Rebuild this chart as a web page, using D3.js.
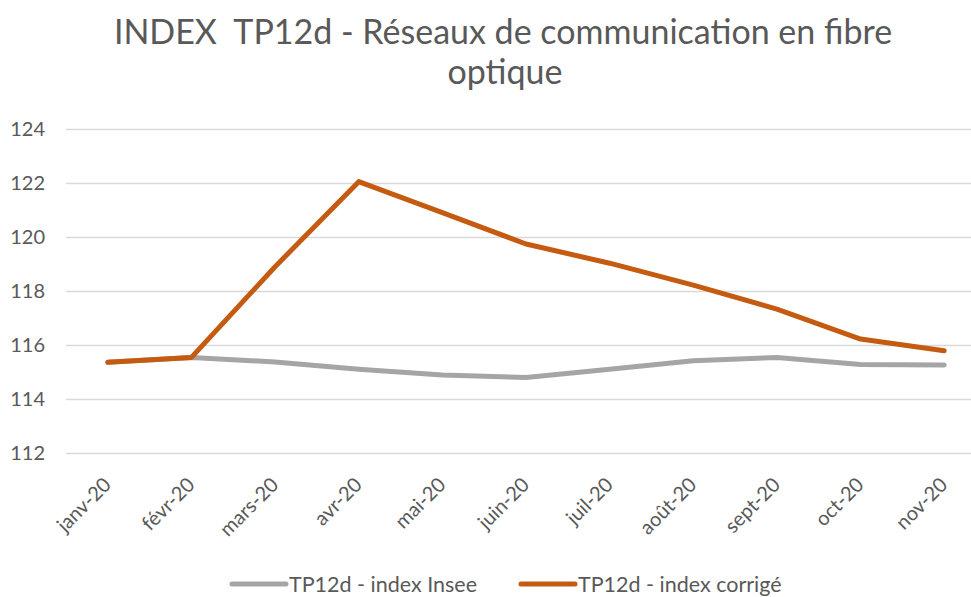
<!DOCTYPE html>
<html>
<head>
<meta charset="utf-8">
<script src="https://cdn.jsdelivr.net/npm/d3@7"></script>
<style>
  body { margin: 0; background: #fff; }
  text { font-family: Lato, "Noto Sans", sans-serif; fill: #595959; }
</style>
</head>
<body>
<div id="root"></div>
<script>
// chart data
const months = ['janv-20', 'févr-20', 'mars-20', 'avr-20', 'mai-20', 'juin-20',
    'juil-20', 'août-20', 'sept-20', 'oct-20', 'nov-20'];
const inseeValues = [115.36, 115.54, 115.37, 115.1, 114.89, 114.8, 115.1, 115.42, 115.54, 115.28, 115.26];
const corrigeValues = [115.36, 115.54, 118.9, 122.05, 120.9, 119.74, 119.03, 118.22, 117.33, 116.22, 115.79];
const yTicks = [112, 114, 116, 118, 120, 122, 124];
const seriesNames = ['TP12d - index Insee', 'TP12d - index corrigé'];

const width = 971;
const height = 597;

const svg = d3.select('#root').append('svg')
    .attr('width', width)
    .attr('height', height);

// plot area
const plotLeft = 66, plotRight = 986, plotTop = 129, plotBottom = 453;

const x = d3.scalePoint()
    .domain(months)
    .range([plotLeft, plotRight])
    .padding(0.5);

const y = d3.scaleLinear()
    .domain([112, 124])
    .range([plotBottom, plotTop]);

// title
const title = svg.append('text')
    .attr('text-anchor', 'middle')
    .attr('font-size', 34)
    .style('white-space', 'pre')
    .attr('x', 503);
title.append('tspan').attr('x', 503).attr('y', 44).text('INDEX  TP12d - Réseaux de communication en fibre');
title.append('tspan').attr('x', 505).attr('y', 84).text('optique');

// gridlines + y labels
const yAxis = svg.append('g')
    .attr('transform', `translate(${plotLeft},0)`)
    .call(d3.axisLeft(y).tickValues(yTicks).tickSize(-(plotRight - plotLeft)).tickPadding(21));
yAxis.select('.domain').remove();
yAxis.selectAll('.tick line').attr('stroke', '#d9d9d9').attr('stroke-width', 1.5);
yAxis.selectAll('.tick text')
    .attr('font-size', 20)
    .attr('fill', '#595959')
    .style('font-family', 'Lato, "Noto Sans", sans-serif');

// x labels
const xAxis = svg.append('g')
    .attr('transform', `translate(0,${plotBottom})`)
    .call(d3.axisBottom(x).tickSize(0).tickPadding(0));
xAxis.select('.domain').remove();
xAxis.selectAll('.tick text')
    .attr('font-size', 20)
    .attr('fill', '#595959')
    .style('font-family', 'Lato, "Noto Sans", sans-serif')
    .attr('text-anchor', 'end')
    .attr('dy', 0)
    .attr('transform', 'translate(4,33) rotate(-45)');

// lines
const line = d3.line()
    .x((d, i) => x(months[i]))
    .y(d => y(d));

svg.append('path')
    .datum(inseeValues)
    .attr('fill', 'none')
    .attr('stroke', '#a5a5a5')
    .attr('stroke-width', 5)
    .attr('stroke-linejoin', 'round')
    .attr('stroke-linecap', 'round')
    .attr('d', line);

svg.append('path')
    .datum(corrigeValues)
    .attr('fill', 'none')
    .attr('stroke', '#c55a11')
    .attr('stroke-width', 5)
    .attr('stroke-linejoin', 'round')
    .attr('stroke-linecap', 'round')
    .attr('d', line);

// legend
const legendItems = [
    { name: seriesNames[0], color: '#a5a5a5', x: 232 },
    { name: seriesNames[1], color: '#c55a11', x: 521 }
];
const legend = svg.append('g');
legendItems.forEach(it => {
    legend.append('line')
        .attr('x1', it.x).attr('x2', it.x + 54)
        .attr('y1', 584).attr('y2', 584)
        .attr('stroke', it.color)
        .attr('stroke-width', 5)
        .attr('stroke-linecap', 'round');
    legend.append('text')
        .attr('x', it.x + 57)
        .attr('y', 592)
        .attr('font-size', 21.5)
        .text(it.name);
});
</script>
</body>
</html>
